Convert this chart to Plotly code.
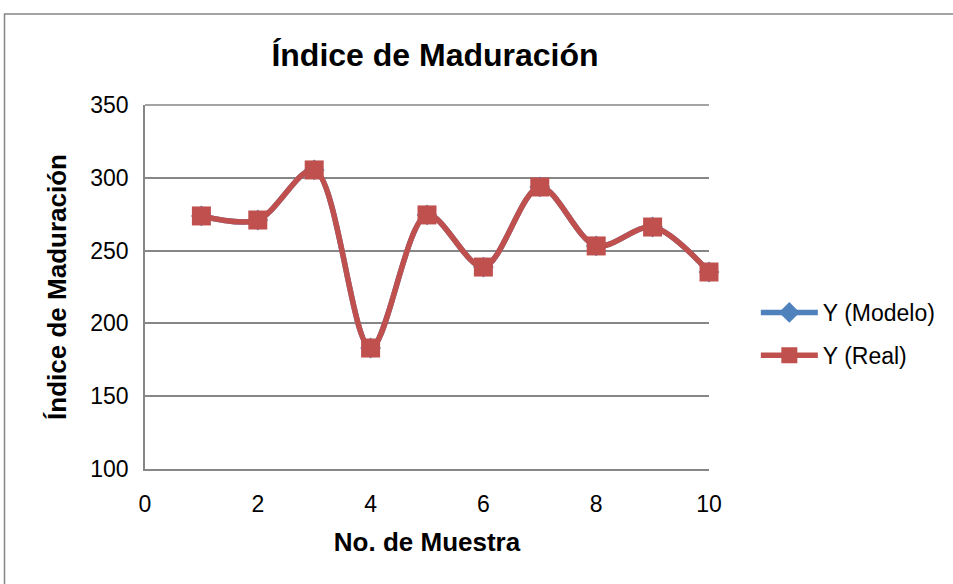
import plotly.graph_objects as go

muestra = [1, 2, 3, 4, 5, 6, 7, 8, 9, 10]
y_modelo = [273.8, 271.0, 305.4, 183.1, 274.5, 238.7, 293.7, 253.2, 266.2, 235.3]
y_real = [273.8, 271.0, 305.4, 183.1, 274.5, 238.7, 293.7, 253.2, 266.2, 235.3]
x_ticks = [0, 2, 4, 6, 8, 10]
y_ticks = [100, 150, 200, 250, 300, 350]

fig = go.Figure()
fig.add_trace(go.Scatter(
    x=muestra, y=y_modelo, name="Y (Modelo)", mode="lines+markers",
    legendgroup="a", cliponaxis=False,
    line=dict(color="#4F81BD", width=5.5, shape="spline", smoothing=0.9),
    marker=dict(symbol="diamond", size=16, color="#4F81BD"),
))
fig.add_trace(go.Scatter(
    x=muestra, y=y_real, name="Y (Real)", mode="lines+markers",
    legendgroup="b", cliponaxis=False,
    line=dict(color="#C0504D", width=5.5, shape="spline", smoothing=0.9),
    marker=dict(symbol="square", size=19, color="#C0504D"),
))

fig.update_layout(
    width=953, height=584,
    margin=dict(l=145, r=242, t=105, b=115),
    paper_bgcolor="white", plot_bgcolor="white",
    font=dict(family="Liberation Sans, Arial", size=23, color="black"),
    title=dict(text="<b>Índice de Maduración</b>", x=435/953, xanchor="center",
               y=1 - 55/584, yanchor="middle", font=dict(size=32)),
    xaxis=dict(range=[0, 10], tickvals=x_ticks, showgrid=False,
               showline=True, linecolor="#868686", linewidth=1.5,
               ticks="", ticklabelstandoff=14,
               title=dict(text="<b>No. de Muestra</b>", font=dict(size=26), standoff=16),
               zeroline=False),
    yaxis=dict(range=[100, 350], tickvals=y_ticks, showgrid=True,
               gridcolor="#868686", gridwidth=1.5,
               showline=True, linecolor="#868686", linewidth=1.5,
               ticks="", ticklabelstandoff=10,
               title=dict(text="<b>Índice de Maduración</b>", font=dict(size=26), standoff=16),
               zeroline=False),
    legend=dict(x=(758 - 145) / 566, y=(469 - 334) / 364, xanchor="left", yanchor="middle",
                font=dict(size=23), tracegroupgap=10, itemwidth=57,
                bgcolor="rgba(0,0,0,0)"),
    showlegend=True,
)

# outer chart frame
fig.add_shape(type="rect", xref="paper", yref="paper",
              x0=(4 - 145) / 566, x1=1.6, y0=-0.5, y1=(469 - 14) / 364,
              line=dict(color="#868686", width=1.5), fillcolor="rgba(0,0,0,0)",
              layer="below")
# top gridline at the upper edge of the plot area
fig.add_shape(type="line", xref="paper", yref="paper", x0=0, x1=1, y0=1, y1=1,
              line=dict(color="#868686", width=1.5), layer="below")

fig.write_html("out.html", config={"displayModeBar": False},
               post_script="document.body.style.margin='0';document.body.style.padding='0';")
